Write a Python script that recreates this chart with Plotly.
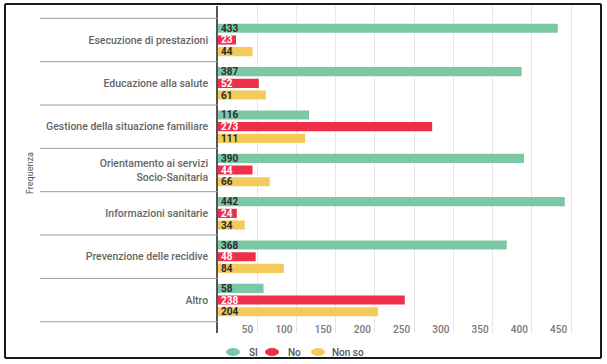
import plotly.graph_objects as go

categories = [
    "Esecuzione di prestazioni",
    "Educazione alla salute",
    "Gestione della situazione familiare",
    "Orientamento ai servizi<br>Socio-Sanitaria",
    "Informazioni sanitarie",
    "Prevenzione delle recidive",
    "Altro",
]
si_values = [433, 387, 116, 390, 442, 368, 58]
no_values = [23, 52, 273, 44, 24, 48, 238]
nonso_values = [44, 61, 111, 66, 34, 84, 204]
series_names = ["SI", "No", "Non so"]
x_ticks = [50, 100, 150, 200, 250, 300, 350, 400, 450]

colors = ["#7cc8a5", "#ee2f49", "#f4cb5b"]
text_colors = ["#2b2b2b", "#ffffff", "#2b2b2b"]

# plot area geometry (px)
L, R, T, B = 218, 32, 6, 31
W, H = 607, 364
PW, PH = W - L - R, H - T - B


def px_x(x):
    return (x - L) / PW


def px_y(y):
    return (H - B - y) / PH


fig = go.Figure()
for name, vals, col, tcol in zip(series_names, [si_values, no_values, nonso_values], colors, text_colors):
    fig.add_trace(go.Bar(
        y=categories, x=vals, orientation="h", name=name,
        marker=dict(color=col, line=dict(width=0)),
        text=[str(v) for v in vals], textposition="inside", insidetextanchor="start",
        constraintext="none", cliponaxis=False,
        textfont=dict(family="Roboto", size=10, color=tcol, weight="bold"),
        showlegend=False, hoverinfo="skip",
    ))

shapes = []
annotations = []
n = len(categories)
# category separators in the label column
for k in range(n + 1):
    shapes.append(dict(type="line", xref="paper", yref="y",
                       x0=px_x(40), x1=0, y0=k - 0.5, y1=k - 0.5,
                       line=dict(color="#9a9a9a", width=1)))
# outer frame (four lines)
fx0, fx1, fy0, fy1 = px_x(5), px_x(601), px_y(358), px_y(4)
for (a, b, c, d) in [(fx0, fy0, fx0, fy1), (fx0, fy1, fx1, fy1),
                     (fx1, fy1, fx1, fy0), (fx1, fy0, fx0, fy0)]:
    shapes.append(dict(type="line", xref="paper", yref="paper",
                       x0=a, y0=b, x1=c, y1=d,
                       line=dict(color="#1a1a1a", width=2), layer="above"))

# legend (manual, circular markers)
legend_marker_x = [233, 272, 318]
legend_text_x = [247, 286, 330]
legend_y = 352
for name, col, mx, tx in zip(series_names, colors, legend_marker_x, legend_text_x):
    shapes.append(dict(type="circle", xref="paper", yref="paper",
                       x0=px_x(mx - 7), x1=px_x(mx + 7),
                       y0=px_y(legend_y + 4), y1=px_y(legend_y - 4),
                       fillcolor=col, line=dict(width=0)))
    annotations.append(dict(text=name, xref="paper", yref="paper",
                            x=px_x(tx), y=px_y(legend_y), xanchor="left", yanchor="middle",
                            showarrow=False,
                            font=dict(family="Roboto", size=10, color="#555555", weight=500)))

annotations.append(dict(text="Frequenza", xref="paper", yref="paper",
                        x=px_x(30), y=px_y(173), xanchor="center", yanchor="middle",
                        textangle=-90, showarrow=False,
                        font=dict(family="Roboto", size=9, color="#555555")))

fig.update_layout(
    width=W, height=H,
    margin=dict(l=L, r=R, t=T, b=B),
    paper_bgcolor="white", plot_bgcolor="white",
    barmode="group", bargap=0.19, bargroupgap=0.22,
    font=dict(family="Roboto", size=9, color="#666666"),
    shapes=shapes,
    annotations=annotations,
    showlegend=False,
)
fig.update_xaxes(
    range=[0, 455], tickvals=x_ticks, ticktext=[str(t) for t in x_ticks],
    showgrid=True, gridcolor="#e6e6e6", gridwidth=1,
    zeroline=False, showline=False, ticks="",
    ticklabelposition="inside left", ticklabelstandoff=-8, ticklabelshift=-4,
    tickfont=dict(family="Roboto", size=10, color="#777777", weight=500),
)
fig.update_yaxes(
    range=[6.76, -0.784], showgrid=False, zeroline=False,
    showline=True, linecolor="#555555", linewidth=1.5,
    ticks="", ticklabelstandoff=6,
    tickfont=dict(family="Roboto", size=10.5, color="#666666", weight=500),
)

fig.write_html("out.html", config={"displayModeBar": False},
               post_script="document.body.style.margin='0';document.body.style.overflow='hidden';")
